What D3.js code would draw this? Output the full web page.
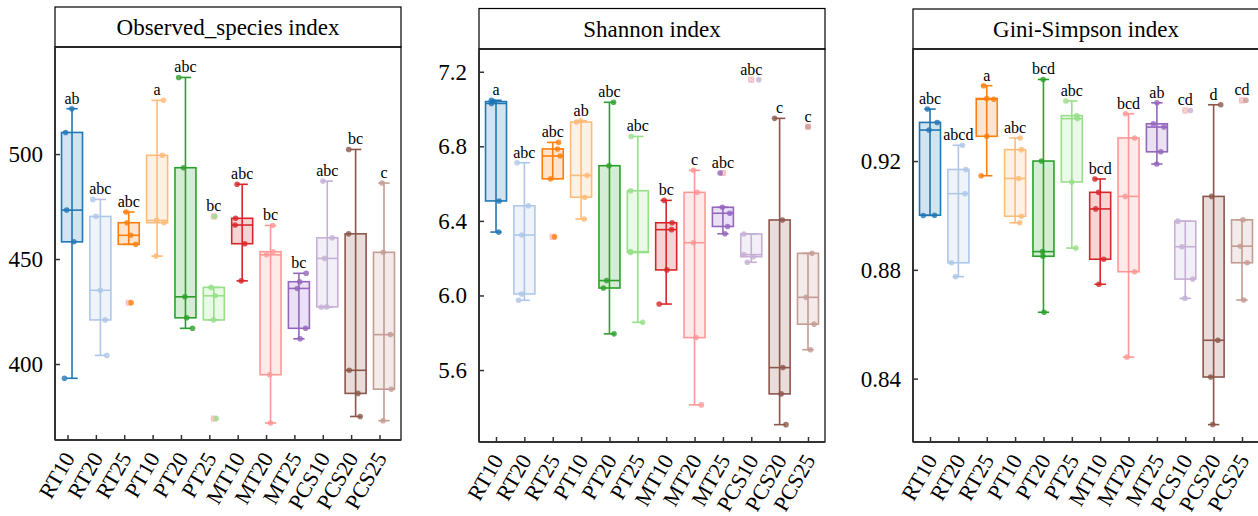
<!DOCTYPE html>
<meta charset="utf-8">
<head>
    <script src="https://d3js.org/d3.v7.min.js"></script>
    <style>
        body { margin: 0; background: #fff; }
    </style>
</head>
<body>
<script type="text/javascript">

    var width = 1258;
    var height = 516;

    // groups and colours
    var groups = ["RT10", "RT20", "RT25", "PT10", "PT20", "PT25", "MT10", "MT20", "MT25", "PCS10", "PCS20", "PCS25"];
    var colors = ["#1f77b4", "#aec7e8", "#ff7f0e", "#ffbb78", "#2ca02c", "#98df8a",
        "#d62728", "#ff9896", "#9467bd", "#c5b0d5", "#8c564b", "#c49c94"];

    // replicate values, one row per group
    var observed = [
        [521.6, 510.3, 473.3, 458.2, 393.2],
        [478.4, 470.3, 435.1, 421.0, 404.1],
        [472.4, 467.3, 461.3, 457.0, 429.2],
        [525.6, 499.4, 468.4, 467.3, 451.4],
        [536.5, 493.5, 432.0, 422.0, 417.0],
        [470.3, 436.5, 432.5, 421.0, 374.0],
        [485.6, 469.4, 466.2, 457.3, 439.6],
        [466.0, 453.5, 452.0, 394.9, 371.9],
        [443.2, 439.2, 436.0, 417.0, 412.0],
        [487.1, 460.1, 450.3, 427.0, 427.2],
        [502.2, 462.0, 397.0, 386.0, 375.0],
        [486.2, 453.2, 414.0, 388.0, 373.0]
    ];
    var shannon = [
        [7.047, 7.040, 7.030, 6.507, 6.340],
        [6.712, 6.481, 6.324, 6.008, 5.974],
        [6.821, 6.786, 6.748, 6.626, 6.315],
        [6.937, 6.930, 6.644, 6.527, 6.410],
        [7.036, 6.696, 6.080, 6.040, 5.794],
        [6.853, 6.562, 6.235, 6.230, 5.856],
        [6.510, 6.390, 6.353, 6.137, 5.954],
        [6.671, 6.553, 6.283, 5.774, 5.413],
        [6.657, 6.473, 6.441, 6.370, 6.331],
        [7.157, 6.330, 6.219, 6.208, 6.178],
        [6.950, 6.405, 5.613, 5.472, 5.307],
        [6.905, 6.226, 5.990, 5.846, 5.709]
    ];
    var gini = [
        [0.9391, 0.9342, 0.9314, 0.9001, 0.9000],
        [0.9258, 0.9169, 0.9080, 0.8826, 0.8775],
        [0.9477, 0.9430, 0.9427, 0.9291, 0.9146],
        [0.9285, 0.9242, 0.9136, 0.8997, 0.8973],
        [0.9500, 0.9200, 0.8867, 0.8850, 0.8644],
        [0.9421, 0.9367, 0.9356, 0.9123, 0.8880],
        [0.9134, 0.9085, 0.9024, 0.8839, 0.8747],
        [0.9374, 0.9285, 0.9070, 0.8793, 0.8479],
        [0.9414, 0.9337, 0.9325, 0.9234, 0.9189],
        [0.9386, 0.8979, 0.8885, 0.8766, 0.8695],
        [0.9407, 0.9070, 0.8541, 0.8406, 0.8231],
        [0.9423, 0.8984, 0.8887, 0.8826, 0.8689]
    ];

    // significance letters
    var lettersObserved = ["ab", "abc", "abc", "a", "abc", "bc", "abc", "bc", "bc", "abc", "bc", "c"];
    var lettersShannon = ["a", "abc", "abc", "ab", "abc", "abc", "bc", "c", "abc", "abc", "c", "c"];
    var lettersGini = ["abc", "abcd", "a", "abc", "bcd", "abc", "bcd", "bcd", "ab", "cd", "d", "cd"];

    // y ticks
    var ticksObserved = [400, 450, 500];
    var ticksShannon = [5.6, 6.0, 6.4, 6.8, 7.2];
    var ticksGini = [0.84, 0.88, 0.92];

    var panels = [
        {title: "Observed_species index", data: observed, letters: lettersObserved, ticks: ticksObserved,
            fmt: d3.format("d"), domain: [363.8, 551], left: 55, right: 401, top: 7, strip: 47, bottom: 440, shift: -4.5},
        {title: "Shannon index", data: shannon, letters: lettersShannon, ticks: ticksShannon,
            fmt: d3.format(".1f"), domain: [5.214, 7.322], left: 479, right: 825, top: 8.5, strip: 49, bottom: 442, shift: 0},
        {title: "Gini-Simpson index", data: gini, letters: lettersGini, ticks: ticksGini,
            fmt: d3.format(".2f"), domain: [0.8167, 0.9612], left: 913, right: 1259, top: 9, strip: 49, bottom: 442, shift: 0}
    ];

    var svg = d3.select("body")
        .append("svg")
        .attr("width", width)
        .attr("height", height)
        .attr("font-family", "Liberation Serif");

    var jitter = d3.randomUniform.source(d3.randomLcg(0.37))(-0.27, 0.27);

    panels.forEach(function (p) {
        var g = svg.append("g");

        var x = d3.scalePoint()
            .domain(groups)
            .range([p.left, p.right])
            .padding(0.6);
        var xTick = d3.scalePoint()
            .domain(groups)
            .range([p.left + p.shift, p.right + p.shift])
            .padding(0.6);
        var y = d3.scaleLinear()
            .domain(p.domain)
            .range([p.bottom, p.strip]);

        var step = x.step();
        var boxW = step * 0.74;
        var capW = step * 0.4;

        // strip
        g.append("rect")
            .attr("x", p.left).attr("y", p.top)
            .attr("width", p.right - p.left).attr("height", p.strip - p.top)
            .attr("fill", "#fff").attr("stroke", "#000").attr("stroke-width", 1.2);
        g.append("text")
            .attr("x", (p.left + p.right) / 2)
            .attr("y", (p.top + p.strip) / 2 + 8)
            .attr("text-anchor", "middle")
            .style("font-size", "23px")
            .text(p.title);

        // panel frame
        g.append("rect")
            .attr("x", p.left).attr("y", p.strip)
            .attr("width", p.right - p.left).attr("height", p.bottom - p.strip)
            .attr("fill", "none").attr("stroke", "#000").attr("stroke-width", 1.2);

        // boxes
        p.data.forEach(function (vals, i) {
            var col = colors[i];
            var cx = x(groups[i]);
            var s = vals.slice().sort(d3.ascending);
            var q1 = d3.quantile(s, 0.25), med = d3.quantile(s, 0.5), q3 = d3.quantile(s, 0.75);
            var iqr = q3 - q1;
            var lo = q1 - 1.5 * iqr, hi = q3 + 1.5 * iqr;
            var inside = s.filter(function (v) { return v >= lo && v <= hi; });
            var wMin = d3.min(inside), wMax = d3.max(inside);
            var outl = s.filter(function (v) { return v < lo || v > hi; });
            var bg = g.append("g");

            bg.append("line")
                .attr("x1", cx).attr("x2", cx)
                .attr("y1", y(wMin)).attr("y2", y(wMax))
                .attr("stroke", col).attr("stroke-width", 1.6);
            [wMin, wMax].forEach(function (v) {
                bg.append("line")
                    .attr("x1", cx - capW / 2).attr("x2", cx + capW / 2)
                    .attr("y1", y(v)).attr("y2", y(v))
                    .attr("stroke", col).attr("stroke-width", 1.6);
            });
            bg.append("rect")
                .attr("x", cx - boxW / 2).attr("y", y(q3))
                .attr("width", boxW).attr("height", y(q1) - y(q3))
                .attr("fill", col).attr("fill-opacity", 0.2)
                .attr("stroke", col).attr("stroke-width", 1.6);
            bg.append("line")
                .attr("x1", cx - boxW / 2).attr("x2", cx + boxW / 2)
                .attr("y1", y(med)).attr("y2", y(med))
                .attr("stroke", col).attr("stroke-width", 1.6);

            // outlier markers
            outl.forEach(function (v) {
                var yy = y(v);
                bg.append("rect")
                    .attr("x", cx - 3).attr("y", yy - 3)
                    .attr("width", 6).attr("height", 6)
                    .attr("fill", "#f08080").attr("fill-opacity", 0.55);
                bg.append("path")
                    .attr("d", "M" + (cx - 2.5) + "," + (yy - 2.5) + "L" + (cx + 2.5) + "," + (yy + 2.5) +
                        "M" + (cx + 2.5) + "," + (yy - 2.5) + "L" + (cx - 2.5) + "," + (yy + 2.5))
                    .attr("stroke", "#fff").attr("stroke-opacity", 0.6).attr("stroke-width", 1);
            });

            // jittered points
            vals.forEach(function (v) {
                bg.append("circle")
                    .attr("cx", cx + jitter() * step)
                    .attr("cy", y(v))
                    .attr("r", 2.8)
                    .attr("fill", col)
                    .attr("fill-opacity", 0.8);
            });

            g.append("text")
                .attr("x", cx)
                .attr("y", y(s[s.length - 1]) - 5)
                .attr("text-anchor", "middle")
                .style("font-size", "16px")
                .text(p.letters[i]);
        });

        // axes: ticks from d3, labels written as plain text
        var yAxis = d3.axisLeft(y)
            .tickValues(p.ticks)
            .tickFormat("")
            .tickSizeInner(-5)
            .tickSizeOuter(0);
        var yg = g.append("g")
            .attr("transform", "translate(" + p.left + ",0)")
            .call(yAxis);
        yg.select(".domain").remove();
        yg.selectAll("line").attr("stroke", "#333").attr("stroke-width", 1.5);
        g.selectAll(null)
            .data(p.ticks)
            .enter()
            .append("text")
            .attr("x", p.left - 12)
            .attr("y", function (d) { return y(d) + 8; })
            .attr("text-anchor", "end")
            .style("font-size", "23px")
            .text(p.fmt);

        var xAxis = d3.axisBottom(xTick)
            .tickFormat("")
            .tickSizeInner(-5)
            .tickSizeOuter(0);
        var xg = g.append("g")
            .attr("transform", "translate(0," + p.bottom + ")")
            .call(xAxis);
        xg.select(".domain").remove();
        xg.selectAll("line").attr("stroke", "#333").attr("stroke-width", 1.5);
        g.selectAll(null)
            .data(groups)
            .enter()
            .append("text")
            .attr("transform", function (d) {
                return "translate(" + (xTick(d) + 8) + "," + (p.bottom + 18) + ") rotate(-60)";
            })
            .attr("text-anchor", "end")
            .style("font-size", "22px")
            .text(function (d) { return d; });

        // axis lines
        g.append("line")
            .attr("x1", p.left).attr("x2", p.left)
            .attr("y1", p.strip).attr("y2", p.bottom)
            .attr("stroke", "#333").attr("stroke-width", 2);
        g.append("line")
            .attr("x1", p.left).attr("x2", p.right)
            .attr("y1", p.bottom).attr("y2", p.bottom)
            .attr("stroke", "#333").attr("stroke-width", 2);
    });

</script>
</body>
</html>
